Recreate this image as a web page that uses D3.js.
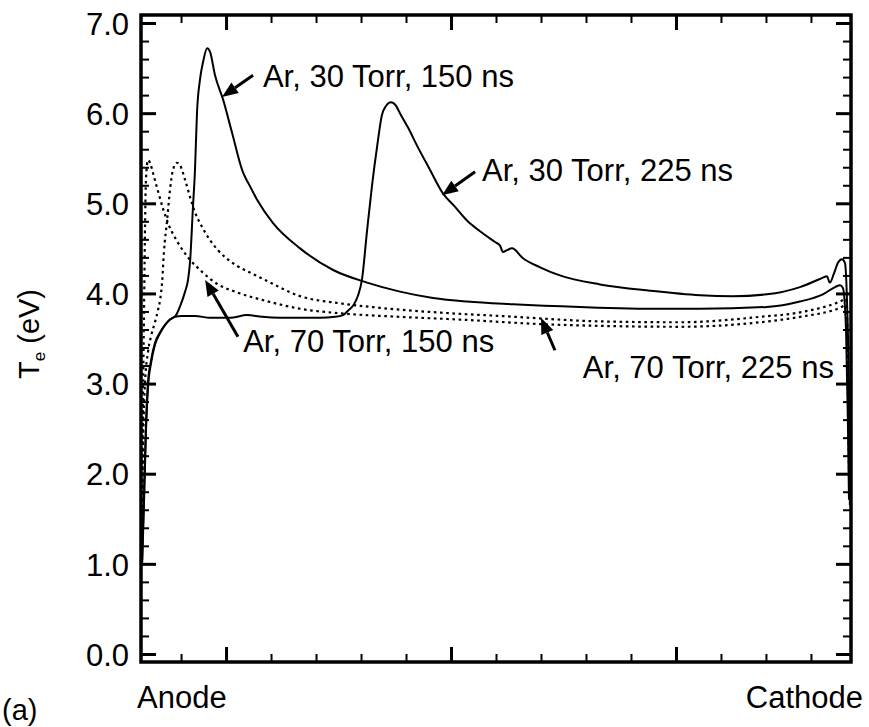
<!DOCTYPE html>
<html>
<head>
<meta charset="utf-8">
<script src="https://cdn.jsdelivr.net/npm/d3@7"></script>
<style>
  body { margin: 0; background: #fff; }
  text { font-family: "Liberation Sans", Arial, Helvetica, sans-serif; fill: #000; }
</style>
</head>
<body>
<svg id="chart" width="869" height="727"></svg>
<script>
// Electron temperature profiles across the discharge gap (anode -> cathode).
// Position is in gap units; major ticks at 1, 2, 3.

// Ar, 30 Torr, 150 ns (solid)
const pos30_150 = [0.627,0.636,0.644,0.653,0.667,0.684,0.707,0.729,0.751,0.764,0.778,0.796,0.818,0.831,0.840,0.853,0.862,0.871,0.884,0.898,0.916,0.929,0.951,0.987,1.027,1.076,1.089,1.102,1.138,1.209,1.329,1.476,1.627,1.773,1.920,2.071,2.276,2.573,2.929,3.107,3.404,3.551,3.653,3.707,3.729,3.742,3.756,3.764,3.769];
const te30_150  = [1.04,1.82,2.54,3.01,3.26,3.45,3.57,3.65,3.71,3.73,3.76,3.86,4.02,4.15,4.35,4.96,5.37,6.01,6.37,6.57,6.72,6.68,6.42,6.15,5.78,5.34,5.27,5.21,5.04,4.78,4.50,4.26,4.12,4.02,3.95,3.91,3.88,3.85,3.83,3.83,3.85,3.91,3.99,4.07,4.09,4.06,3.59,2.60,1.71];

// Ar, 30 Torr, 225 ns (solid)
const pos30_225 = [0.627,0.636,0.644,0.653,0.667,0.684,0.707,0.729,0.751,0.773,0.804,0.862,0.929,1.018,1.093,1.160,1.240,1.329,1.418,1.484,1.520,1.547,1.569,1.587,1.604,1.627,1.649,1.671,1.693,1.711,1.733,1.756,1.773,1.809,1.849,1.907,1.964,2.018,2.071,2.129,2.196,2.218,2.231,2.249,2.271,2.320,2.396,2.484,2.662,2.884,3.107,3.253,3.404,3.551,3.640,3.671,3.684,3.702,3.720,3.738,3.751,3.760,3.769,3.773];
const te30_225  = [0.98,1.74,2.46,2.95,3.23,3.43,3.56,3.65,3.71,3.74,3.75,3.75,3.73,3.73,3.76,3.74,3.73,3.73,3.73,3.74,3.76,3.82,3.88,3.98,4.15,4.70,5.20,5.62,5.98,6.08,6.12,6.08,6.00,5.84,5.64,5.37,5.11,4.96,4.81,4.69,4.57,4.53,4.46,4.48,4.50,4.39,4.29,4.20,4.10,4.03,3.98,3.97,3.99,4.07,4.16,4.19,4.12,4.22,4.34,4.38,4.34,3.93,2.82,1.65];

// Ar, 70 Torr, 150 ns (dotted)
const pos70_150 = [0.627,0.631,0.636,0.640,0.644,0.653,0.662,0.676,0.698,0.720,0.742,0.787,0.831,0.893,0.964,1.040,1.173,1.329,1.507,1.773,2.040,2.396,2.662,3.018,3.373,3.551,3.729,3.756,3.764,3.769];
const te70_150  = [1.71,2.82,3.93,4.76,5.26,5.48,5.45,5.33,5.13,4.94,4.78,4.56,4.40,4.24,4.10,4.02,3.92,3.83,3.78,3.74,3.71,3.66,3.64,3.63,3.68,3.74,3.84,3.87,3.04,2.04];

// Ar, 70 Torr, 225 ns (dotted)
const pos70_225 = [0.627,0.631,0.640,0.653,0.667,0.684,0.698,0.707,0.716,0.724,0.738,0.751,0.764,0.782,0.796,0.818,0.840,0.862,0.893,0.929,0.964,1.040,1.116,1.173,1.329,1.507,1.684,1.996,2.218,2.662,3.018,3.373,3.551,3.729,3.756,3.764,3.769];
const te70_225  = [1.49,2.26,3.01,3.35,3.53,3.68,3.82,3.93,4.13,4.46,4.81,5.15,5.37,5.45,5.42,5.26,5.07,4.90,4.74,4.59,4.48,4.32,4.22,4.15,3.97,3.89,3.84,3.78,3.75,3.69,3.68,3.74,3.79,3.91,3.94,3.37,2.26];

const seriesLabels = ["Ar, 30 Torr, 150 ns", "Ar, 30 Torr, 225 ns", "Ar, 70 Torr, 150 ns", "Ar, 70 Torr, 225 ns"];

// Axis ticks
const yMajorTicks = [0, 1, 2, 3, 4, 5, 6, 7];
const yMinorTicks = d3.range(0, 7.01, 0.2).map(v => +v.toFixed(1)).filter(v => !yMajorTicks.includes(v));
const xMajorTicks = [1, 2, 3];
const xMinorTicks = [0.8, 1.2, 1.4, 1.6, 1.8, 2.2, 2.4, 2.6, 2.8, 3.2, 3.4, 3.6];
const xEndLabels = ["Anode", "Cathode"];
const panelLabel = "(a)";

// Layout
const svg = d3.select("#chart");
const frame = { left: 141, right: 851, top: 15, bottom: 662 };
const x = d3.scaleLinear().domain([0.622, 3.778]).range([frame.left, frame.right]);
const y = d3.scaleLinear().domain([-0.089, 7.089]).range([frame.bottom, frame.top]);

const series = [
  { name: seriesLabels[0], pos: pos30_150, te: te30_150, dash: null },
  { name: seriesLabels[1], pos: pos30_225, te: te30_225, dash: null },
  { name: seriesLabels[2], pos: pos70_150, te: te70_150, dash: "2.6,3.6" },
  { name: seriesLabels[3], pos: pos70_225, te: te70_225, dash: "2.6,3.6" }
];

const line = d3.line()
  .x(d => x(d[0]))
  .y(d => y(d[1]))
  .curve(d3.curveMonotoneX);

svg.append("g").selectAll("path")
  .data(series)
  .join("path")
  .attr("d", s => line(s.pos.map((p, i) => [p, s.te[i]])))
  .attr("fill", "none")
  .attr("stroke", "#000")
  .attr("stroke-width", s => s.dash ? 2.2 : 2)
  .attr("stroke-linejoin", "round")
  .attr("stroke-dasharray", s => s.dash);

// Inward ticks on all four sides
function tickAxis(axis, tx, ty, size, width, values) {
  const g = svg.append("g")
    .attr("transform", `translate(${tx},${ty})`)
    .call(axis.tickValues(values).tickSizeInner(-size).tickSizeOuter(0));
  g.select(".domain").remove();
  g.selectAll(".tick line").attr("stroke", "#000").attr("stroke-width", width);
  return g;
}

const noLabel = () => "";
tickAxis(d3.axisLeft(y).tickFormat(noLabel), frame.left, 0, 8, 2, yMinorTicks);
tickAxis(d3.axisRight(y).tickFormat(noLabel), frame.right, 0, 8, 2, yMinorTicks);
tickAxis(d3.axisRight(y).tickFormat(noLabel), frame.right, 0, 15, 3, yMajorTicks);
tickAxis(d3.axisBottom(x).tickFormat(noLabel), 0, frame.bottom, 8, 2, xMinorTicks);
tickAxis(d3.axisBottom(x).tickFormat(noLabel), 0, frame.bottom, 15, 3, xMajorTicks);
tickAxis(d3.axisTop(x).tickFormat(noLabel), 0, frame.top, 8, 2, xMinorTicks);
tickAxis(d3.axisTop(x).tickFormat(noLabel), 0, frame.top, 15, 3, xMajorTicks);

const yAxisG = tickAxis(d3.axisLeft(y).tickFormat(d3.format(".1f")).tickPadding(12), frame.left, 0, 15, 3, yMajorTicks);
yAxisG.selectAll(".tick text")
  .attr("font-size", 31)
  .attr("font-family", "Liberation Sans, Arial, sans-serif")
  .attr("dy", "0.36em");

// Plot frame
svg.append("rect")
  .attr("x", frame.left).attr("y", frame.top)
  .attr("width", frame.right - frame.left)
  .attr("height", frame.bottom - frame.top)
  .attr("fill", "none")
  .attr("stroke", "#000")
  .attr("stroke-width", 3.5);

// Annotations: arrow tail / tip in data units, label anchor in data units
const notes = [
  { label: 0, tail: [1.120, 6.42], tip: [0.982, 6.18], at: [1.164, 6.29], anchor: "start" },
  { label: 1, tail: [2.107, 5.35], tip: [1.960, 5.09], at: [2.138, 5.25], anchor: "start" },
  { label: 2, tail: [1.053, 3.52], tip: [0.907, 4.15], at: [1.076, 3.35], anchor: "start" },
  { label: 3, tail: [2.462, 3.37], tip: [2.400, 3.73], at: [3.702, 3.06], anchor: "end" }
];

const noteG = svg.append("g");
notes.forEach(n => {
  const x0 = x(n.tail[0]), y0 = y(n.tail[1]);
  const x1 = x(n.tip[0]),  y1 = y(n.tip[1]);
  const ang = Math.atan2(y1 - y0, x1 - x0);
  const headLen = 16, headHalf = 6.5;
  const bx = x1 - headLen * Math.cos(ang), by = y1 - headLen * Math.sin(ang);
  noteG.append("line")
    .attr("x1", x0).attr("y1", y0).attr("x2", bx).attr("y2", by)
    .attr("stroke", "#000").attr("stroke-width", 3);
  const px = -Math.sin(ang), py = Math.cos(ang);
  noteG.append("polygon")
    .attr("points", [
      [x1, y1],
      [bx + headHalf * px, by + headHalf * py],
      [bx - headHalf * px, by - headHalf * py]
    ].map(p => p.join(",")).join(" "))
    .attr("fill", "#000");
  noteG.append("text")
    .attr("x", x(n.at[0])).attr("y", y(n.at[1]))
    .attr("text-anchor", n.anchor)
    .attr("font-size", 31)
    .text(seriesLabels[n.label]);
});

// Axis titles
svg.append("text")
  .attr("x", 137).attr("y", 708)
  .attr("font-size", 31)
  .text(xEndLabels[0]);
svg.append("text")
  .attr("x", 863).attr("y", 708)
  .attr("text-anchor", "end")
  .attr("font-size", 31)
  .text(xEndLabels[1]);
svg.append("text")
  .attr("x", 2).attr("y", 720)
  .attr("font-size", 29)
  .text(panelLabel);

const yTitle = svg.append("text")
  .attr("transform", "translate(39,334) rotate(-90)")
  .attr("text-anchor", "middle")
  .attr("font-size", 29);
yTitle.append("tspan").text("T");
yTitle.append("tspan").attr("font-size", 17).attr("dy", 6).text("e");
yTitle.append("tspan").attr("dy", -6).text(" (eV)");
</script>
</body>
</html>
